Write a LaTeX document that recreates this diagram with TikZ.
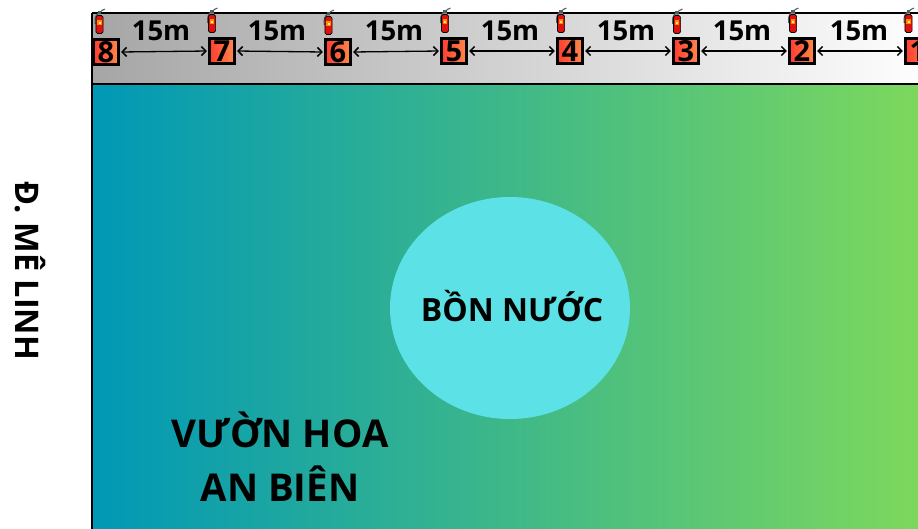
\documentclass[tikz,border=0pt]{standalone}
\usepackage{fontspec}
\setmainfont{Open Sans}[BoldFont={Open Sans Bold}]
\usetikzlibrary{arrows.meta}
\definecolor{exred}{HTML}{E01010}
\definecolor{boxL}{HTML}{FF3B30}
\definecolor{boxR}{HTML}{FF8A4A}
\tikzset{
  x=1pt,y=-1pt,
  numbox/.style={draw=black,line width=2.6pt,minimum size=25.5pt,inner sep=0pt,left color=boxL,right color=boxR,font=\bfseries\fontsize{29}{29}\selectfont,text=black},
  dist/.style={font=\bfseries\fontsize{27.5}{27.5}\selectfont,text=black,inner sep=0pt},
  span/.style={draw=black,line width=1.3pt,{Straight Barb[length=4.5pt,width=9pt,line width=1.5pt]}-{Straight Barb[length=4.5pt,width=9pt,line width=1.5pt]},shorten >=1pt,shorten <=1pt},
  big/.style={font=\bfseries\fontsize{38.3}{54}\selectfont,text=black,inner sep=0pt,align=center},
}
\newcommand{\extg}[2]{%
  \begin{scope}[shift={(#1,#2)}]
    \draw[gray!70!black,line width=1.1pt] (0,-4) .. controls (1,-6) and (3,-7) .. (5.5,-8);
    \draw[gray!70!black,line width=1.1pt] (-4.2,7) .. controls (-5,2) and (-4,-2) .. (-1,-4);
    \fill[black!65] (-1.8,-6) rectangle (1.8,-3);
    \fill[teal!70] (-1.6,-3.4) rectangle (1.6,-1);
    \draw[black,line width=0.7pt,fill=exred,rounded corners=1.8pt] (-3.6,-1.5) rectangle (3.6,16.5);
    \fill[orange!90!yellow] (-2.3,3) rectangle (2.3,8);
    \fill[yellow!60] (-1,4.6) rectangle (1,7.2);
  \end{scope}}
\begin{document}
\begin{tikzpicture}
\useasboundingbox (0,0) rectangle (918,528);
\clip (0,0) rectangle (918,528);
\definecolor{bandL}{HTML}{A6A6A6}
\definecolor{mainL}{HTML}{0098B6}
\definecolor{mainR}{HTML}{7FD95B}
\definecolor{tankc}{HTML}{5CE1E6}
\fill[left color=bandL,right color=white] (92,13) rectangle (934,84);
\fill[left color=mainL,right color=mainR] (92,84) rectangle (934,530);
\draw[black,line width=2pt] (92,13) -- (934,13);
\draw[black,line width=2pt] (92,84) -- (934,84);
\draw[black,line width=2pt] (92,13) -- (92,530);
\node[numbox] (n8) at (106,52) {8};
\node[numbox] (n7) at (222,51) {7};
\node[numbox] (n6) at (338,52) {6};
\node[numbox] (n5) at (454,51) {5};
\node[numbox] (n4) at (570,51) {4};
\node[numbox] (n3) at (686,51) {3};
\node[numbox] (n2) at (802,51) {2};
\node[numbox] (n1) at (918,51) {1};
\foreach \a/\b/\c in {n8/n7/161,n7/n6/277,n6/n5/394,n5/n4/510,n4/n3/626,n3/n2/742,n2/n1/859}{
  \draw[span] (\a.east) -- (\b.west);
  \node[dist] at (\c,31) {15m};
}
\extg{99.5}{17}\extg{212}{16}\extg{328.5}{18}\extg{445}{16}\extg{561}{16}\extg{677}{17}\extg{793}{16}\extg{908.5}{16}
\fill[tankc] (510,308) ellipse [x radius=120,y radius=111];
\node[font=\bfseries\fontsize{32}{32}\selectfont,inner sep=0pt] (tank) at (512,306) {BỒN NƯỚC};
\node[big] (garden) at (280,457) {VƯỜN HOA\\AN BIÊN};
\node[font=\bfseries\fontsize{32.5}{32.5}\selectfont,rotate=-90,inner sep=0pt] (road) at (30,271) {Đ. MÊ LINH};
\end{tikzpicture}
\end{document}
